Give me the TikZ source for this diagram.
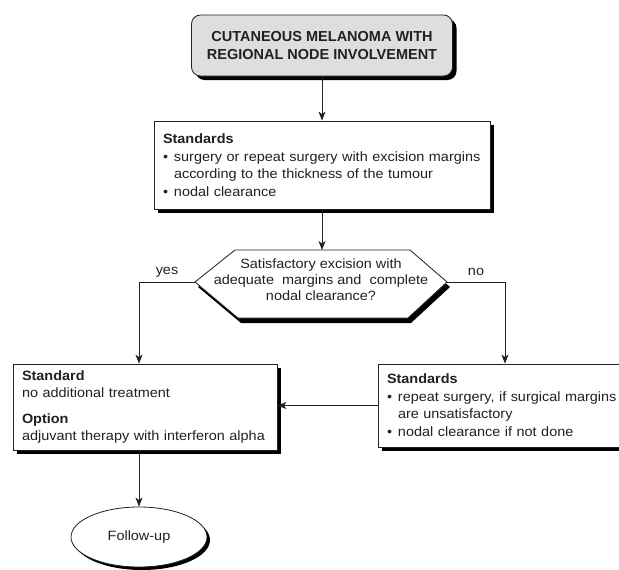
\documentclass[tikz,border=0pt]{standalone}
\usepackage{fontspec}
\setmainfont{Liberation Sans}[FakeStretch=1.07]
\newfontfamily\titlefont{Liberation Sans}
\usetikzlibrary{arrows.meta,shapes.geometric,shadows}
\definecolor{ink}{gray}{0.13}
\definecolor{titlegray}{gray}{0.87}
\newcommand{\itembul}{\makebox[11pt][l]{\textbullet}}
\begin{document}
\begin{tikzpicture}[x = 1pt, y = -1pt,
  shade/.style = {drop shadow = {shadow xshift = 4pt, shadow yshift = -4pt, fill = black, opacity = 1}},
  box/.style = {draw = ink, line width = 0.8pt, fill = white, shade, align = left, inner xsep = 9pt, text = ink, font = \fontsize{13.5}{17}\selectfont},
  titlebox/.style = {box, rounded corners = 9pt, fill = titlegray, align = center, font = \titlefont\bfseries\fontsize{14.5}{17.5}\selectfont},
  dectext/.style = {align = center, text = ink, inner sep = 0pt, font = \fontsize{13.5}{16}\selectfont},
  endnode/.style = {ellipse, draw = ink, line width = 0.8pt, fill = white, text = ink, font = \fontsize{13.5}{16}\selectfont,
    drop shadow = {shadow xshift = 3pt, shadow yshift = -3pt, fill = black, opacity = 1}},
  lbl/.style = {text = ink, font = \fontsize{13.5}{16}\selectfont},
  arr/.style = {draw = ink, line width = 0.8pt, -{Stealth[length = 9pt, width = 7pt, inset = 2.5pt]}}]
\useasboundingbox (0,0) rectangle (619,570);
\clip (0,0) rectangle (619,570);
\node [titlebox, minimum width = 261pt, minimum height = 61pt] (title) at (322,45.5) {CUTANEOUS MELANOMA WITH\\REGIONAL NODE INVOLVEMENT};
\node [box, text width = 318pt, minimum height = 88pt] (std1) at (322,165) {\textbf{Standards}\\[1pt]
\itembul surgery or repeat surgery with excision margins\\
\hspace*{11pt}according to the thickness of the tumour\\[1pt]
\itembul nodal clearance};
\coordinate (decW) at (195,282);
\coordinate (decE) at (447,282);
\coordinate (decN) at (322,250);
\draw [ink, line width = 0.8pt, fill = white, drop shadow = {shadow xshift = 3pt, shadow yshift = -5pt, fill = black, opacity = 1}]
  (decW) -- (235,250) -- (410,250) -- (decE) -- (408,318) -- (238,318) -- cycle;
\node [dectext] (dec) at (321,280) {Satisfactory excision with\\adequate\ \ margins and\ \ complete\\nodal clearance?};
\node [box, text width = 246pt, minimum height = 86pt] (std2) at (145,407) {\textbf{Standard}\\no additional treatment\\[9pt]
\textbf{Option}\\adjuvant therapy with interferon alpha};
\node [box, text width = 236pt, minimum height = 83pt] (std3) at (505,405.5) {\textbf{Standards}\\[1pt]
\itembul repeat surgery, if surgical margins\\
\hspace*{11pt}are unsatisfactory\\[1pt]
\itembul nodal clearance if not done};
\node [endnode, minimum width = 136pt, minimum height = 60pt] (fu) at (139,537) {Follow-up};
\node [lbl] (yes) at (167,272) {yes};
\node [lbl] (no) at (476,272) {no};
\draw [arr] (title) -- (std1);
\draw [arr] (std1) -- (decN);
\draw [arr] (decW) -| ([xshift = -6pt]std2.north);
\draw [arr] (decE) -| (std3.north);
\draw [arr] (std3.west) -- (std3.west -| std2.east);
\draw [arr] ([xshift = -6pt]std2.south) -- (fu);
\end{tikzpicture}
\end{document}
